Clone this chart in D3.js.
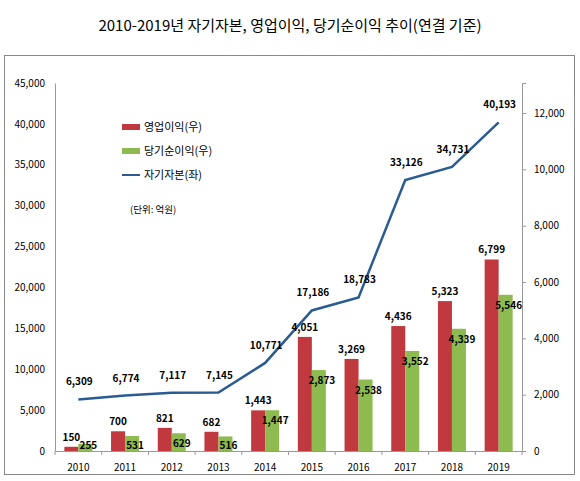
<!DOCTYPE html>
<html>
<head>
  <script src="https://d3js.org/d3.v7.min.js"></script>
  <style>
    * { margin: 0; box-sizing: border-box; }
    body { background: #fff; font-family: "Noto Sans CJK KR", "Noto Sans", sans-serif; }
    text { font-family: "Noto Sans CJK KR", "Noto Sans", sans-serif; }
  </style>
</head>
<body>
<script>
const years = ["2010","2011","2012","2013","2014","2015","2016","2017","2018","2019"];
const opProfit = [150, 700, 821, 682, 1443, 4051, 3269, 4436, 5323, 6799];
const netProfit = [255, 531, 629, 516, 1447, 2873, 2538, 3552, 4339, 5546];
const equity = [6309, 6774, 7117, 7145, 10771, 17186, 18783, 33126, 34731, 40193];
const leftTicks = d3.range(0, 45001, 5000);
const rightTicks = d3.range(0, 12001, 2000);

const W = 580, H = 481;
const svg = d3.select("body").append("svg").attr("width", W).attr("height", H);

svg.append("text").attr("x", W / 2).attr("y", 31).attr("text-anchor", "middle")
  .style("font-size", "15px").text("2010-2019년 자기자본, 영업이익, 당기순이익 추이(연결 기준)");

svg.append("rect").attr("x", 4.5).attr("y", 55.5).attr("width", 570).attr("height", 419)
  .attr("fill", "none").attr("stroke", "#888");

const x = d3.scaleBand().domain(years).range([55, 522]);
const yL = d3.scaleLinear().domain([0, 45000]).range([451, 83]);
const yR = d3.scaleLinear().domain([0, 12000 * 368 / 338]).range([451, 83]);
const fmt = d3.format(",");

const axL = svg.append("g").attr("transform", "translate(55,0)")
  .call(d3.axisLeft(yL).tickValues(leftTicks).tickFormat(fmt).tickSize(0).tickPadding(10));
const axR = svg.append("g").attr("transform", "translate(522,0)")
  .call(d3.axisRight(yR).tickValues(rightTicks).tickFormat(fmt).tickSize(4).tickPadding(8));
const axB = svg.append("g").attr("transform", "translate(0,451)")
  .call(d3.axisBottom(x).tickSize(0).tickPadding(13));
[axL, axR, axB].forEach(a => {
  a.selectAll("path, line").attr("stroke", "#999");
  a.selectAll("text").style("font-size", "10px").attr("fill", "#000");
});
axB.selectAll(".sep").data(x.domain().concat(["end"])).enter().append("line")
  .attr("x1", (d, i) => 55 + i * x.step()).attr("x2", (d, i) => 55 + i * x.step())
  .attr("y1", 0).attr("y2", 4).attr("stroke", "#999");

const bw = 14;
const cx = d => x(d) + x.bandwidth() / 2;

svg.selectAll(".op").data(years).enter().append("rect")
  .attr("x", d => cx(d) - bw).attr("width", bw)
  .attr("y", (d, i) => yR(opProfit[i])).attr("height", (d, i) => 451 - yR(opProfit[i]))
  .attr("fill", "#c0393f");
svg.selectAll(".np").data(years).enter().append("rect")
  .attr("x", d => cx(d)).attr("width", bw)
  .attr("y", (d, i) => yR(netProfit[i])).attr("height", (d, i) => 451 - yR(netProfit[i]))
  .attr("fill", "#8dbb4f");

svg.append("path").datum(years)
  .attr("d", d3.line().x(d => cx(d)).y((d, i) => yL(equity[i])))
  .attr("fill", "none").attr("stroke", "#2a5b93").attr("stroke-width", 2.5);

function labels(cls, vals, xf, yf) {
  svg.selectAll("." + cls).data(years).enter().append("text")
    .attr("x", (d, i) => xf(d, i)).attr("y", (d, i) => yf(d, i))
    .attr("text-anchor", "middle").style("font-size", "10px").style("font-weight", "bold")
    .text((d, i) => fmt(vals[i]));
}
labels("opl", opProfit, d => cx(d) - bw / 2, (d, i) => yR(opProfit[i]) - 6);
labels("npl", netProfit, d => cx(d) + bw / 2 + 3, (d, i) => Math.min(yR(netProfit[i]) + 14, 449));
labels("eql", equity, d => cx(d) + 1, (d, i) => yL(equity[i]) - 14);

// legend
const leg = svg.append("g").attr("transform", "translate(122,128)");
leg.append("rect").attr("x", 0).attr("y", -4).attr("width", 18).attr("height", 6).attr("fill", "#c0393f");
leg.append("rect").attr("x", 0).attr("y", 20).attr("width", 18).attr("height", 6).attr("fill", "#8dbb4f");
leg.append("line").attr("x1", 0).attr("x2", 18).attr("y1", 47).attr("y2", 47).attr("stroke", "#2a5b93").attr("stroke-width", 2);
[["영업이익(우)", 3], ["당기순이익(우)", 27], ["자기자본(좌)", 51]].forEach(([t, yy]) =>
  leg.append("text").attr("x", 22).attr("y", yy).style("font-size", "11px").text(t));
leg.append("text").attr("x", 8).attr("y", 85).style("font-size", "9.5px").text("(단위: 억원)");
</script>
</body>
</html>
